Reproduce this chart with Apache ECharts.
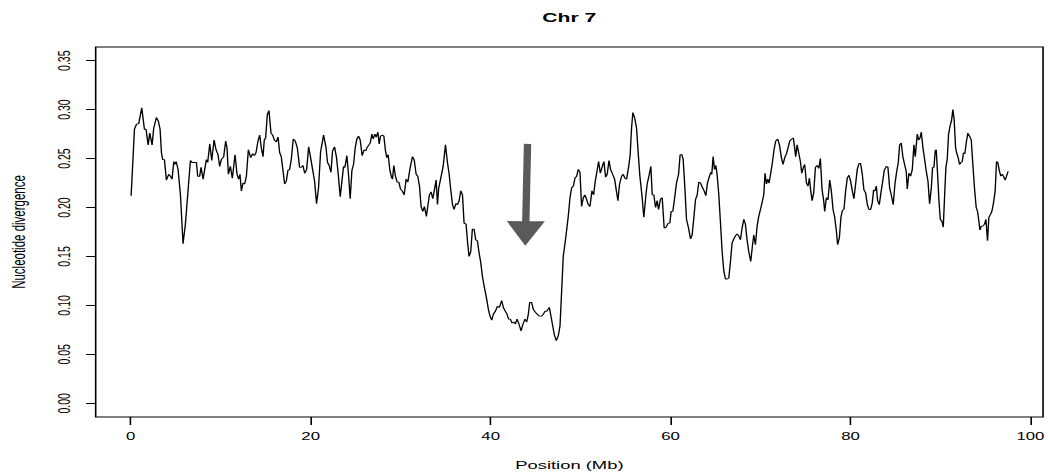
<!DOCTYPE html>
<html>
<head>
<meta charset="utf-8">
<script src="https://cdn.jsdelivr.net/npm/echarts@6/dist/echarts.min.js"></script>
<style>
  html, body { margin: 0; padding: 0; background: #fff; overflow: hidden; }
  /* the original plot is stretched sideways, so draw it narrow and widen it */
  #chart { width: 655px; height: 475px; transform: scaleX(1.6); transform-origin: 0 0; }
</style>
</head>
<body>
<div id="chart"></div>
<script>
// position along chromosome 7 (Mb) and the divergence at that window
const posMb = [
  0.04, 0.41, 0.63, 0.89, 1.0, 1.22, 1.52, 1.7, 1.93, 2.11, 2.37, 2.55, 2.85, 3.07, 3.26, 3.41, 3.55, 3.74, 3.96, 4.22,
  4.4, 4.59, 4.78, 4.89, 5.04, 5.26, 5.52, 5.81, 6.07, 6.33, 6.63, 6.81, 7.07, 7.3, 7.44, 7.66, 7.81, 8.04, 8.22, 8.4,
  8.55, 8.78, 9.0, 9.26, 9.48, 9.7, 9.88, 10.07, 10.33, 10.55, 10.7, 10.85, 11.07, 11.29, 11.59, 11.81, 11.99, 12.14, 12.29, 12.48,
  12.66, 12.85, 13.07, 13.33, 13.55, 13.74, 13.92, 14.14, 14.33, 14.51, 14.7, 14.84, 14.99, 15.18, 15.36, 15.59, 15.77, 15.96, 16.18, 16.37,
  16.55, 16.73, 17.1, 17.29, 17.47, 17.66, 17.84, 18.06, 18.28, 18.51, 18.77, 18.95, 19.14, 19.33, 19.55, 19.77, 19.99, 20.21, 20.43, 20.65,
  20.87, 21.1, 21.43, 21.69, 21.87, 22.05, 22.25, 22.43, 22.65, 22.87, 23.06, 23.28, 23.47, 23.65, 23.8, 24.02, 24.2, 24.39, 24.58, 24.76,
  24.95, 25.13, 25.32, 25.5, 25.72, 25.95, 26.13, 26.24, 26.47, 26.62, 26.8, 26.95, 27.13, 27.28, 27.47, 27.61, 27.76, 27.98, 28.13, 28.31,
  28.46, 28.61, 28.8, 28.98, 29.09, 29.24, 29.42, 29.61, 29.79, 29.98, 30.17, 30.39, 30.61, 30.8, 31.02, 31.31, 31.5, 31.72, 31.9, 32.09,
  32.27, 32.46, 32.64, 32.86, 33.01, 33.2, 33.38, 33.57, 33.75, 33.94, 34.09, 34.23, 34.46, 34.72, 34.98, 35.2, 35.39, 35.57, 35.76, 35.94,
  36.13, 36.31, 36.5, 36.68, 36.87, 37.05, 37.27, 37.44, 37.6, 37.79, 37.97, 38.16, 38.34, 38.53, 38.71, 38.9, 39.08, 39.27, 39.49, 39.75,
  39.93, 40.12, 40.3, 40.52, 40.75, 40.97, 41.23, 41.41, 41.64, 41.82, 42.0, 42.19, 42.38, 42.56, 42.75, 42.93, 43.15, 43.38, 43.6, 43.82,
  44.01, 44.19, 44.34, 44.56, 44.74, 44.97, 45.19, 45.41, 45.63, 45.86, 46.04, 46.23, 46.38, 46.52, 46.71, 46.9, 47.08, 47.3, 47.52, 47.71,
  47.9, 48.07, 48.37, 48.63, 48.82, 49.0, 49.2, 49.37, 49.56, 49.74, 49.93, 50.11, 50.3, 50.48, 50.67, 50.85, 51.04, 51.26, 51.45, 51.63,
  51.82, 52.0, 52.19, 52.41, 52.59, 52.78, 52.96, 53.15, 53.33, 53.56, 53.78, 53.96, 54.15, 54.33, 54.56, 54.74, 54.92, 55.11, 55.33, 55.51,
  55.66, 55.81, 56.0, 56.22, 56.4, 56.59, 56.81, 57.03, 57.26, 57.4, 57.59, 57.81, 57.96, 58.14, 58.33, 58.51, 58.66, 58.89, 59.07, 59.29,
  59.51, 59.73, 59.92, 60.06, 60.25, 60.44, 60.66, 60.89, 61.06, 61.25, 61.4, 61.59, 61.77, 62.0, 62.22, 62.4, 62.59, 62.77, 62.96, 63.14,
  63.33, 63.51, 63.73, 63.92, 64.1, 64.29, 64.47, 64.58, 64.73, 64.88, 65.03, 65.17, 65.36, 65.55, 65.73, 65.92, 66.1, 66.29, 66.47, 66.66,
  66.84, 67.03, 67.21, 67.4, 67.58, 67.77, 67.95, 68.14, 68.32, 68.5, 68.69, 68.91, 69.1, 69.25, 69.43, 69.62, 69.8, 69.99, 70.17, 70.36,
  70.5, 70.66, 70.81, 70.95, 71.13, 71.32, 71.5, 71.69, 71.91, 72.1, 72.32, 72.5, 72.69, 72.88, 73.06, 73.24, 73.47, 73.65, 73.76, 73.91,
  74.06, 74.24, 74.43, 74.58, 74.76, 74.91, 75.1, 75.28, 75.43, 75.58, 75.73, 75.91, 76.1, 76.28, 76.47, 76.65, 76.84, 77.02, 77.13, 77.32,
  77.5, 77.69, 77.87, 78.06, 78.24, 78.43, 78.57, 78.76, 78.94, 79.09, 79.27, 79.46, 79.64, 79.83, 80.01, 80.2, 80.38, 80.57, 80.75, 80.94,
  81.12, 81.31, 81.49, 81.68, 81.87, 82.05, 82.24, 82.42, 82.57, 82.72, 82.87, 83.01, 83.2, 83.38, 83.57, 83.75, 83.98, 84.16, 84.35, 84.53,
  84.75, 84.94, 85.12, 85.31, 85.46, 85.64, 85.82, 86.01, 86.19, 86.31, 86.49, 86.68, 86.87, 87.05, 87.2, 87.42, 87.57, 87.72, 87.87, 88.05,
  88.24, 88.42, 88.61, 88.79, 88.98, 89.12, 89.27, 89.42, 89.53, 89.68, 89.83, 89.98, 90.16, 90.31, 90.45, 90.6, 90.75, 90.9, 91.08, 91.23,
  91.38, 91.52, 91.68, 91.82, 91.97, 92.12, 92.27, 92.42, 92.56, 92.71, 92.86, 93.04, 93.23, 93.42, 93.6, 93.78, 93.97, 94.12, 94.27, 94.38,
  94.53, 94.71, 94.9, 95.05, 95.23, 95.38, 95.56, 95.71, 95.9, 96.08, 96.23, 96.38, 96.53, 96.71, 96.86, 97.0, 97.19, 97.34, 97.52
];
const divergence = [
  0.212, 0.280, 0.285, 0.286, 0.286, 0.302, 0.280, 0.280, 0.264, 0.276, 0.264, 0.281, 0.292, 0.288, 0.280, 0.256, 0.249, 0.249, 0.228, 0.234,
  0.232, 0.229, 0.247, 0.244, 0.247, 0.239, 0.213, 0.163, 0.183, 0.213, 0.248, 0.246, 0.246, 0.246, 0.232, 0.232, 0.241, 0.229, 0.239, 0.249,
  0.246, 0.265, 0.248, 0.269, 0.259, 0.254, 0.242, 0.249, 0.252, 0.268, 0.261, 0.234, 0.242, 0.230, 0.254, 0.234, 0.229, 0.234, 0.217, 0.225,
  0.224, 0.232, 0.259, 0.251, 0.255, 0.253, 0.256, 0.268, 0.274, 0.261, 0.252, 0.269, 0.271, 0.295, 0.299, 0.276, 0.274, 0.269, 0.267, 0.272,
  0.256, 0.252, 0.224, 0.227, 0.238, 0.239, 0.249, 0.270, 0.268, 0.261, 0.241, 0.241, 0.243, 0.235, 0.239, 0.262, 0.251, 0.239, 0.227, 0.204,
  0.220, 0.257, 0.274, 0.262, 0.246, 0.243, 0.236, 0.258, 0.262, 0.251, 0.234, 0.211, 0.227, 0.242, 0.241, 0.253, 0.234, 0.209, 0.238, 0.244,
  0.261, 0.270, 0.273, 0.269, 0.253, 0.259, 0.258, 0.261, 0.264, 0.266, 0.275, 0.270, 0.275, 0.272, 0.277, 0.265, 0.273, 0.274, 0.273, 0.258,
  0.251, 0.254, 0.238, 0.231, 0.229, 0.243, 0.232, 0.226, 0.226, 0.219, 0.217, 0.213, 0.229, 0.226, 0.239, 0.252, 0.249, 0.234, 0.232, 0.222,
  0.201, 0.196, 0.201, 0.191, 0.201, 0.213, 0.216, 0.209, 0.218, 0.228, 0.203, 0.220, 0.230, 0.242, 0.264, 0.246, 0.234, 0.218, 0.203, 0.198,
  0.204, 0.203, 0.207, 0.217, 0.213, 0.184, 0.183, 0.164, 0.150, 0.155, 0.178, 0.178, 0.167, 0.166, 0.154, 0.144, 0.130, 0.120, 0.110, 0.096,
  0.089, 0.085, 0.091, 0.094, 0.099, 0.098, 0.105, 0.098, 0.094, 0.091, 0.086, 0.086, 0.082, 0.083, 0.081, 0.086, 0.081, 0.074, 0.081, 0.086,
  0.083, 0.091, 0.103, 0.103, 0.096, 0.093, 0.091, 0.089, 0.089, 0.091, 0.094, 0.094, 0.096, 0.098, 0.089, 0.079, 0.070, 0.064, 0.069, 0.079,
  0.116, 0.150, 0.171, 0.191, 0.210, 0.220, 0.222, 0.230, 0.232, 0.239, 0.236, 0.201, 0.210, 0.213, 0.208, 0.203, 0.201, 0.217, 0.213, 0.227,
  0.237, 0.247, 0.235, 0.242, 0.247, 0.231, 0.234, 0.248, 0.239, 0.234, 0.229, 0.218, 0.207, 0.224, 0.232, 0.234, 0.230, 0.229, 0.241, 0.254,
  0.281, 0.297, 0.292, 0.281, 0.256, 0.232, 0.213, 0.190, 0.213, 0.224, 0.232, 0.242, 0.213, 0.213, 0.200, 0.207, 0.198, 0.209, 0.210, 0.179,
  0.180, 0.184, 0.184, 0.196, 0.196, 0.209, 0.225, 0.234, 0.254, 0.254, 0.249, 0.220, 0.188, 0.179, 0.168, 0.172, 0.190, 0.208, 0.213, 0.226,
  0.225, 0.221, 0.217, 0.212, 0.225, 0.231, 0.236, 0.234, 0.252, 0.239, 0.243, 0.234, 0.213, 0.184, 0.155, 0.135, 0.127, 0.127, 0.128, 0.145,
  0.164, 0.168, 0.171, 0.173, 0.171, 0.167, 0.179, 0.188, 0.183, 0.167, 0.155, 0.145, 0.161, 0.172, 0.162, 0.181, 0.191, 0.198, 0.205, 0.213,
  0.235, 0.224, 0.229, 0.225, 0.235, 0.246, 0.259, 0.268, 0.270, 0.264, 0.251, 0.244, 0.251, 0.255, 0.261, 0.268, 0.270, 0.271, 0.271, 0.252,
  0.264, 0.256, 0.247, 0.235, 0.241, 0.244, 0.225, 0.222, 0.230, 0.217, 0.207, 0.215, 0.241, 0.243, 0.240, 0.250, 0.218, 0.207, 0.196, 0.210,
  0.208, 0.228, 0.217, 0.198, 0.190, 0.176, 0.162, 0.169, 0.190, 0.197, 0.198, 0.217, 0.230, 0.233, 0.227, 0.217, 0.209, 0.224, 0.239, 0.245,
  0.245, 0.234, 0.218, 0.215, 0.203, 0.198, 0.198, 0.205, 0.218, 0.217, 0.222, 0.207, 0.203, 0.215, 0.226, 0.238, 0.242, 0.241, 0.220, 0.213,
  0.203, 0.224, 0.236, 0.246, 0.264, 0.266, 0.252, 0.244, 0.237, 0.219, 0.235, 0.232, 0.239, 0.264, 0.252, 0.275, 0.269, 0.271, 0.277, 0.261,
  0.249, 0.237, 0.227, 0.204, 0.220, 0.241, 0.241, 0.258, 0.259, 0.234, 0.207, 0.188, 0.186, 0.180, 0.210, 0.241, 0.249, 0.275, 0.284, 0.289,
  0.300, 0.290, 0.261, 0.255, 0.251, 0.244, 0.246, 0.247, 0.256, 0.255, 0.266, 0.276, 0.273, 0.269, 0.244, 0.220, 0.200, 0.196, 0.186, 0.177,
  0.181, 0.181, 0.183, 0.188, 0.166, 0.190, 0.193, 0.196, 0.205, 0.217, 0.247, 0.246, 0.238, 0.232, 0.234, 0.232, 0.228, 0.232, 0.237
];
const xTicks = [0, 20, 40, 60, 80, 100];
const yTicks = [0, 0.05, 0.1, 0.15, 0.2, 0.25, 0.3, 0.35];
// the grey arrow over the low-divergence region: tail and tip in data units
const arrowFrom = [44.1, 0.265];
const arrowTo = [43.85, 0.161];

const font = "'Liberation Sans', Arial, Helvetica, sans-serif";

const chart = echarts.init(document.getElementById('chart'), null, { renderer: 'svg' });

chart.setOption({
  animation: false,
  backgroundColor: '#fff',
  title: {
    text: 'Chr 7',
    left: 355.8,
    top: 11,
    padding: 0,
    textAlign: 'center',
    textStyle: { fontFamily: font, fontSize: 13.2, fontWeight: 'bold', color: '#000' },
  },
  grid: {
    left: 59.8,
    right: 3.1,
    top: 47,
    bottom: 58,
    outerBoundsMode: 'none',
    show: true,
    borderColor: '#000',
    borderWidth: 1,
    backgroundColor: 'transparent',
  },
  xAxis: {
    type: 'value',
    // R pads the range by 4% on each side
    min: -3.9,
    max: 101.4,
    name: 'Position (Mb)',
    nameLocation: 'middle',
    nameGap: 42,
    nameTextStyle: { fontFamily: font, fontSize: 11.5, color: '#000' },
    axisLine: { show: false, onZero: false },
    splitLine: { show: false },
    axisTick: { show: true, length: 8, customValues: xTicks, lineStyle: { color: '#000' } },
    axisLabel: {
      customValues: xTicks,
      margin: 14,
      fontFamily: font,
      fontSize: 10.5,
      color: '#000',
    },
  },
  yAxis: {
    type: 'value',
    min: -0.014,
    max: 0.364,
    name: 'Nucleotide divergence',
    nameLocation: 'middle',
    nameGap: 42,
    nameTextStyle: { fontFamily: font, fontSize: 11.5, color: '#000' },
    axisLine: { show: false, onZero: false },
    splitLine: { show: false },
    axisTick: { show: true, length: 6, customValues: yTicks, lineStyle: { color: '#000' } },
    axisLabel: {
      customValues: yTicks,
      rotate: 90,
      margin: 14,
      fontFamily: font,
      fontSize: 10.5,
      color: '#000',
      formatter: (v) => v.toFixed(2),
    },
  },
  series: [
    {
      type: 'line',
      data: posMb.map((x, i) => [x, divergence[i]]),
      showSymbol: false,
      symbol: 'none',
      lineStyle: { color: '#000', width: 0.85 },
      z: 3,
    },
    {
      type: 'custom',
      data: [arrowFrom],
      z: 2,
      renderItem: function (params, api) {
        const p0 = api.coord(arrowFrom);
        const p1 = api.coord(arrowTo);
        const dx = p1[0] - p0[0];
        const dy = p1[1] - p0[1];
        const len = Math.sqrt(dx * dx + dy * dy);
        const ux = dx / len, uy = dy / len;
        const nx = -uy, ny = ux;
        const headLen = 24.5, headHalf = 11.9, shaftHalf = 2.3;
        const bx = p1[0] - ux * headLen, by = p1[1] - uy * headLen;
        return {
          type: 'polygon',
          shape: {
            points: [
              [p0[0] + nx * shaftHalf, p0[1] + ny * shaftHalf],
              [bx + nx * shaftHalf, by + ny * shaftHalf],
              [bx + nx * headHalf, by + ny * headHalf],
              p1,
              [bx - nx * headHalf, by - ny * headHalf],
              [bx - nx * shaftHalf, by - ny * shaftHalf],
              [p0[0] - nx * shaftHalf, p0[1] - ny * shaftHalf],
            ],
          },
          style: { fill: '#5a5a5a' },
        };
      },
    },
  ],
});
</script>
</body>
</html>
